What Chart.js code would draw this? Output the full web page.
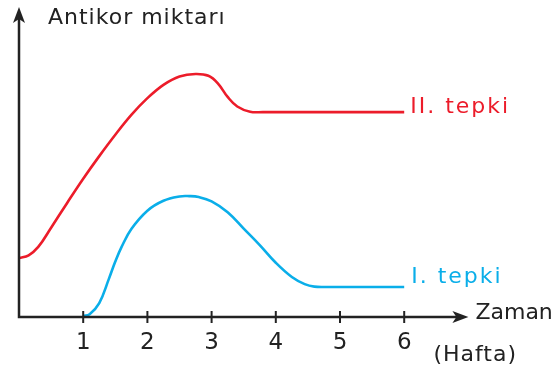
<!DOCTYPE html>
<html lang="tr">
<head>
  <meta charset="UTF-8">
  <title>Antikor miktarı</title>
  <script src="https://cdn.jsdelivr.net/npm/chart.js"></script>
  <style>
    html, body { margin: 0; padding: 0; background: #fff; }
    #wrap { width: 557px; height: 374px; }
  </style>
</head>
<body>
  <div id="wrap"><canvas id="antikorChart"></canvas></div>

  <script>
    // Zaman (hafta) ve antikor miktarı (göreli birim, 0-100)
    const weekTicks = [1, 2, 3, 4, 5, 6];

    const secondWeeks  = [0, 0.15, 0.3, 0.5, 0.75, 1.0, 1.25, 1.5, 1.75, 2.0, 2.25, 2.5, 2.75, 2.95, 3.1, 3.25, 3.4, 3.6, 3.8, 6.0];
    const secondValues = [19.0, 19.9, 22.6, 28.8, 36.8, 44.6, 51.9, 58.8, 65.2, 70.6, 74.9, 77.6, 78.4, 77.8, 75.3, 71.0, 67.9, 66.2, 66.1, 66.1];

    const firstWeeks  = [1.0, 1.1, 1.25, 1.4, 1.5, 1.6, 1.75, 2.0, 2.25, 2.5, 2.65, 2.8, 3.0, 3.25, 3.5, 3.75, 4.0, 4.25, 4.45, 4.6, 4.8, 6.0];
    const firstValues = [0.3, 0.9, 4.5, 12.3, 17.9, 22.7, 28.4, 34.3, 37.5, 38.9, 39.0, 38.7, 37.3, 33.8, 28.5, 23.2, 17.5, 12.9, 10.6, 9.8, 9.7, 9.7];

    const seriesLabels = ['II. tepki', 'I. tepki'];
    const yTitle = 'Antikor miktarı';
    const xTitle = 'Zaman';
    const xUnit = '(Hafta)';

    const RED = '#ec1c2a';
    const BLUE = '#0aaee9';
    const INK = '#222';
    const FONT = '"DejaVu Sans", sans-serif';

    const toPoints = (xs, ys) => xs.map((x, i) => ({ x: x, y: ys[i] }));

    // eksenler, oklar, çentikler ve yazılar
    const axesPlugin = {
      id: 'axesPlugin',
      afterDatasetsDraw(chart) {
        const { ctx, scales: { x, y } } = chart;
        const x0 = x.getPixelForValue(0);
        const y0 = y.getPixelForValue(0);
        const xEnd = x.getPixelForValue(7);
        const yEnd = y.getPixelForValue(100);

        ctx.save();
        ctx.strokeStyle = INK;
        ctx.fillStyle = INK;
        ctx.lineWidth = 2.5;
        ctx.beginPath();
        ctx.moveTo(x0, yEnd + 8);
        ctx.lineTo(x0, y0);
        ctx.lineTo(xEnd - 8, y0);
        ctx.stroke();

        // ok uçları
        ctx.beginPath();
        ctx.moveTo(x0, yEnd);
        ctx.lineTo(x0 - 6, yEnd + 16);
        ctx.lineTo(x0, yEnd + 12);
        ctx.lineTo(x0 + 6, yEnd + 16);
        ctx.closePath();
        ctx.fill();
        ctx.beginPath();
        ctx.moveTo(xEnd, y0);
        ctx.lineTo(xEnd - 16, y0 - 6);
        ctx.lineTo(xEnd - 12, y0);
        ctx.lineTo(xEnd - 16, y0 + 6);
        ctx.closePath();
        ctx.fill();

        // çentikler ve sayılar
        ctx.lineWidth = 2;
        ctx.font = '23px ' + FONT;
        ctx.textAlign = 'center';
        ctx.textBaseline = 'middle';
        weekTicks.forEach(t => {
          const px = x.getPixelForValue(t);
          ctx.beginPath();
          ctx.moveTo(px, y0 - 6);
          ctx.lineTo(px, y0 + 6);
          ctx.stroke();
          ctx.fillText(String(t), px, y0 + 26);
        });

        ctx.font = '22px ' + FONT;
        ctx.textAlign = 'left';
        ctx.letterSpacing = '1px';
        ctx.fillText(yTitle, x0 + 29, yEnd + 11);
        ctx.fillText(xUnit, xEnd - 35, y0 + 38);
        ctx.letterSpacing = '0px';
        ctx.fillText(xTitle, xEnd + 7, y0 - 4);

        // seri adları, son noktanın yanında
        const lastRed = secondWeeks.length - 1;
        const lastBlue = firstWeeks.length - 1;
        ctx.letterSpacing = '2px';
        ctx.textBaseline = 'alphabetic';
        ctx.fillStyle = RED;
        ctx.fillText(seriesLabels[0], x.getPixelForValue(secondWeeks[lastRed]) + 6,
          y.getPixelForValue(secondValues[lastRed]) + 1);
        ctx.fillStyle = BLUE;
        ctx.fillText(seriesLabels[1], x.getPixelForValue(firstWeeks[lastBlue]) + 7,
          y.getPixelForValue(firstValues[lastBlue]) - 4);
        ctx.restore();
      }
    };

    new Chart(document.getElementById('antikorChart'), {
      type: 'scatter',
      data: {
        datasets: [
          {
            label: seriesLabels[0],
            data: toPoints(secondWeeks, secondValues),
            showLine: true,
            borderColor: RED,
            borderWidth: 2.6,
            pointRadius: 0,
            tension: 0.4
          },
          {
            label: seriesLabels[1],
            data: toPoints(firstWeeks, firstValues),
            showLine: true,
            borderColor: BLUE,
            borderWidth: 2.6,
            pointRadius: 0,
            tension: 0.4
          }
        ]
      },
      options: {
        responsive: true,
        maintainAspectRatio: false,
        animation: false,
        layout: { padding: { left: 19, right: 88.6, top: 7, bottom: 57 } },
        plugins: { legend: { display: false }, tooltip: { enabled: false } },
        scales: {
          x: { type: 'linear', min: 0, max: 7, display: false },
          y: { type: 'linear', min: 0, max: 100, display: false }
        }
      },
      plugins: [axesPlugin]
    });
  </script>
</body>
</html>
